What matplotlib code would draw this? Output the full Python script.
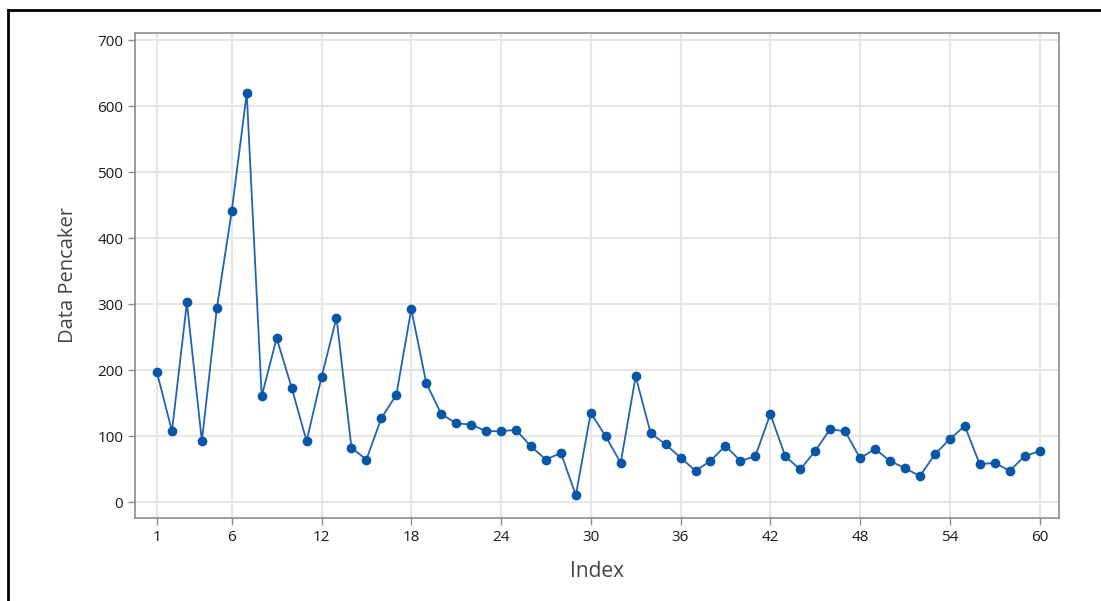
import matplotlib
matplotlib.use("Agg")
import matplotlib.pyplot as plt
from matplotlib.lines import Line2D

index = list(range(1, 61))
values = [197, 108, 303, 93, 294, 442, 620, 161, 249, 174,
          93, 190, 280, 83, 65, 128, 163, 293, 181, 134,
          120, 118, 108, 108, 110, 85, 65, 75, 11, 136,
          100, 60, 191, 105, 88, 68, 48, 63, 86, 63,
          70, 134, 70, 50, 78, 111, 108, 67, 81, 63,
          52, 40, 73, 96, 116, 58, 60, 48, 70, 78]
xticks = [1, 6, 12, 18, 24, 30, 36, 42, 48, 54, 60]
yticks = [0, 100, 200, 300, 400, 500, 600, 700]

plt.rcParams['font.family'] = ['Open Sans', 'DejaVu Sans']

fig = plt.figure(figsize=(11.01, 6.01), dpi=100)
ax = fig.add_axes([135/1101, 1-518/601, (1059-135)/1101, (518-32.5)/601])

ax.plot(index, values, color='#1f64b4', lw=1.3, marker='o', markersize=6,
        markerfacecolor='#0a56a6', markeredgecolor='#0a56a6', zorder=3)

ax.set_xlim(-0.47, 61.3)
ax.set_ylim(-23.5, 712)
ax.set_xticks(xticks)
ax.set_yticks(yticks)
ax.grid(True, color='#e6e6e6', lw=1.6)
ax.set_axisbelow(True)
for s in ax.spines.values():
    s.set_color('#8c8c8c')
    s.set_linewidth(1.2)
ax.tick_params(colors='#8c8c8c', labelcolor='#1a1a1a', labelsize=11, length=5, width=1)
ax.set_xlabel('Index', fontsize=15, color='#444444', labelpad=12)
ax.set_ylabel('Data Pencaker', fontsize=14.5, color='#444444', labelpad=14)

# outer black frame (top and left visible)
fig.add_artist(Line2D([8/1101, 1.0], [1-10/601, 1-10/601], color='black', lw=2, transform=fig.transFigure))
fig.add_artist(Line2D([8/1101, 8/1101], [0.0, 1-10/601], color='black', lw=2, transform=fig.transFigure))

fig.savefig('out.png', dpi=100)
